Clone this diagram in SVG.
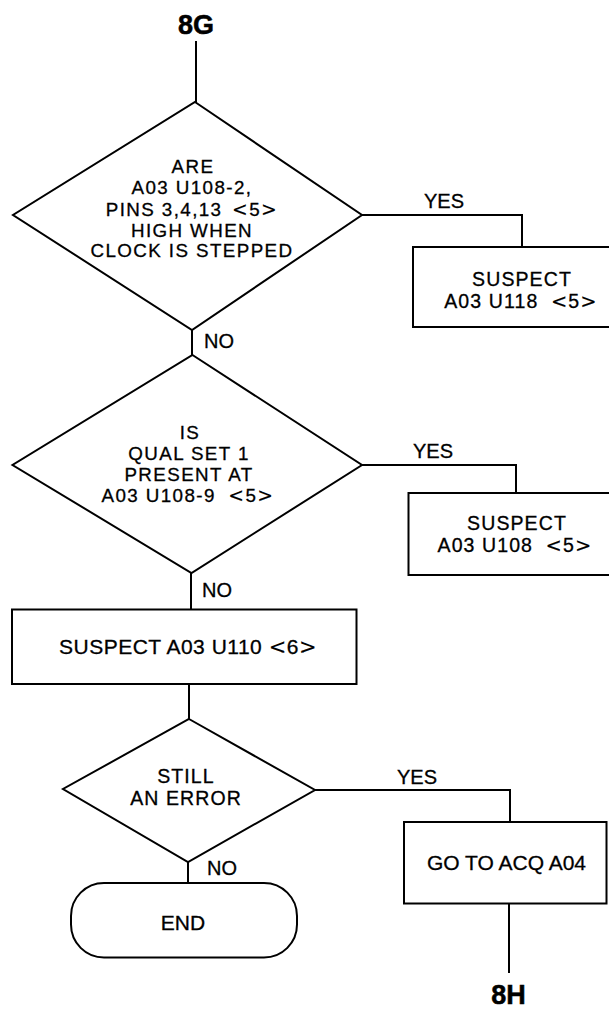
<svg xmlns="http://www.w3.org/2000/svg" width="609" height="1009" viewBox="0 0 609 1009">
<style>
.s{fill:none;stroke:#000;stroke-width:2;stroke-linejoin:miter}
.n{fill:#fff;stroke:#000;stroke-width:2}
text{font-family:"Liberation Sans",Arial,sans-serif;font-size:21px;fill:#000;stroke:#000;stroke-width:0.3;text-anchor:middle}
.d{font-size:18.8px;letter-spacing:1.4px}
.b{font-size:19.5px;letter-spacing:1.1px}
.m{font-family:"DejaVu Sans",sans-serif;stroke-width:0.1}
.lbl{font-size:20px;text-anchor:start}
.yes{font-size:20px}
.big{font-size:27px;font-weight:bold;stroke-width:0.5}
</style>
<rect width="609" height="1009" fill="#fff"/>
<g id="connectors">
<path class="s" d="M196 41 V102"/>
<path class="s" d="M362 215 H522 V247"/>
<path class="s" d="M192 330 V355"/>
<path class="s" d="M362 465 H516 V493"/>
<path class="s" d="M191 573 V609"/>
<path class="s" d="M189 684 V719"/>
<path class="s" d="M315 790 H510 V822"/>
<path class="s" d="M188 862 V883"/>
<path class="s" d="M509 903 V973"/>
<text class="yes" x="444" y="208">YES</text>
<text class="lbl" x="204" y="348">NO</text>
<text class="yes" x="433" y="458">YES</text>
<text class="lbl" x="202" y="597">NO</text>
<text class="yes" x="417" y="784">YES</text>
<text class="lbl" x="207" y="875">NO</text>
</g>
<g id="start8G"><text class="big" x="196" y="34">8G</text></g>
<g id="decision1">
<polygon class="n" points="195,102 362,215 192,330 13,215"/>
<text class="d" x="193" y="173">ARE</text>
<text class="d" x="192" y="194">A03 U108-2,</text>
<text class="d" x="192" y="216">PINS 3,4,13 <tspan class="m" dx="3">&lt;</tspan>5<tspan class="m">&gt;</tspan></text>
<text class="d" x="192" y="237">HIGH WHEN</text>
<text class="d" x="192" y="257">CLOCK IS STEPPED</text>
</g>
<g id="box1">
<rect class="n" x="413" y="247" width="200" height="80"/>
<text class="b" x="522" y="286">SUSPECT</text>
<text class="b" x="521" y="308">A03 U118 <tspan class="m" dx="6">&lt;</tspan>5<tspan class="m">&gt;</tspan></text>
</g>
<g id="decision2">
<polygon class="n" points="192.5,355 362,465 191.5,573 12.5,465"/>
<text class="d" x="190" y="439">IS</text>
<text class="d" x="189" y="460">QUAL SET 1</text>
<text class="d" x="189" y="480.5">PRESENT AT</text>
<text class="d" x="188" y="502">A03 U108-9 <tspan class="m" dx="6">&lt;</tspan>5<tspan class="m">&gt;</tspan></text>
</g>
<g id="box2">
<rect class="n" x="408.5" y="493" width="205" height="82"/>
<text class="b" x="517" y="530">SUSPECT</text>
<text class="b" x="515" y="552">A03 U108 <tspan class="m" dx="6">&lt;</tspan>5<tspan class="m">&gt;</tspan></text>
</g>
<g id="box3">
<rect class="n" x="12" y="609.5" width="344.5" height="74.5"/>
<text x="188" y="654" letter-spacing="0.5">SUSPECT A03 U110 <tspan class="m">&lt;</tspan>6<tspan class="m">&gt;</tspan></text>
</g>
<g id="decision3">
<polygon class="n" points="189,719 315,790 188,862 63,789"/>
<text class="b" x="186" y="783">STILL</text>
<text class="b" x="186" y="805">AN ERROR</text>
</g>
<g id="end">
<rect class="n" x="71" y="883" width="226" height="74.5" rx="33" ry="33"/>
<text x="183" y="930">END</text>
</g>
<g id="box4">
<rect class="n" x="404" y="822" width="202.5" height="81.5"/>
<text x="506.5" y="870">GO TO ACQ A04</text>
</g>
<g id="end8H"><text class="big" x="508.5" y="1004">8H</text></g>
</svg>
